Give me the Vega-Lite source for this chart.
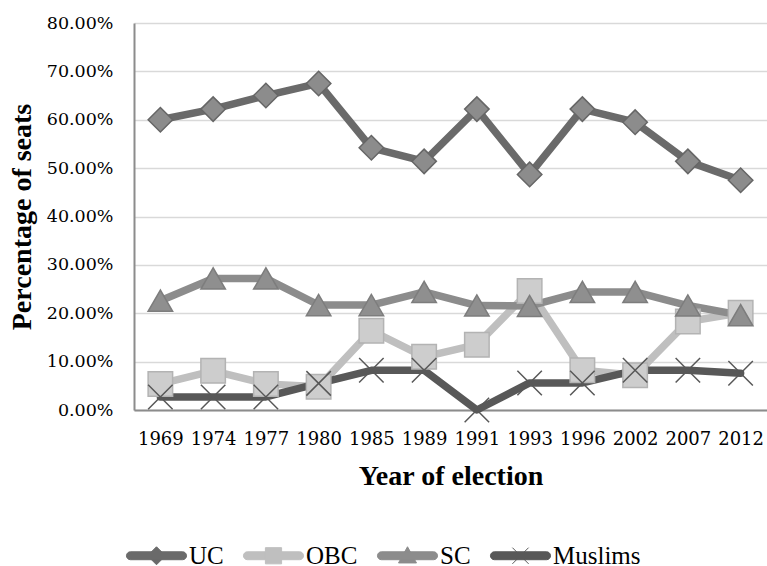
{
  "$schema": "https://vega.github.io/schema/vega-lite/v6.json",
  "width": 633,
  "height": 387,
  "autosize": {"type": "none"},
  "padding": {"left": 134, "top": 23, "right": 0, "bottom": 156},
  "background": "white",
  "config": {"view": {"stroke": null}, "font": "DejaVu Serif"},
  "data": {
    "values": [
      {"year": "1969", "series": "UC", "value": 0.600},
      {"year": "1974", "series": "UC", "value": 0.622},
      {"year": "1977", "series": "UC", "value": 0.650},
      {"year": "1980", "series": "UC", "value": 0.675},
      {"year": "1985", "series": "UC", "value": 0.542},
      {"year": "1989", "series": "UC", "value": 0.514},
      {"year": "1991", "series": "UC", "value": 0.622},
      {"year": "1993", "series": "UC", "value": 0.487},
      {"year": "1996", "series": "UC", "value": 0.622},
      {"year": "2002", "series": "UC", "value": 0.595},
      {"year": "2007", "series": "UC", "value": 0.514},
      {"year": "2012", "series": "UC", "value": 0.475},
      {"year": "1969", "series": "OBC", "value": 0.054},
      {"year": "1974", "series": "OBC", "value": 0.081},
      {"year": "1977", "series": "OBC", "value": 0.054},
      {"year": "1980", "series": "OBC", "value": 0.048},
      {"year": "1985", "series": "OBC", "value": 0.164},
      {"year": "1989", "series": "OBC", "value": 0.110},
      {"year": "1991", "series": "OBC", "value": 0.135},
      {"year": "1993", "series": "OBC", "value": 0.246},
      {"year": "1996", "series": "OBC", "value": 0.082},
      {"year": "2002", "series": "OBC", "value": 0.072},
      {"year": "2007", "series": "OBC", "value": 0.183},
      {"year": "2012", "series": "OBC", "value": 0.201},
      {"year": "1969", "series": "SC", "value": 0.226},
      {"year": "1974", "series": "SC", "value": 0.272},
      {"year": "1977", "series": "SC", "value": 0.272},
      {"year": "1980", "series": "SC", "value": 0.217},
      {"year": "1985", "series": "SC", "value": 0.217},
      {"year": "1989", "series": "SC", "value": 0.244},
      {"year": "1991", "series": "SC", "value": 0.216},
      {"year": "1993", "series": "SC", "value": 0.215},
      {"year": "1996", "series": "SC", "value": 0.244},
      {"year": "2002", "series": "SC", "value": 0.244},
      {"year": "2007", "series": "SC", "value": 0.216},
      {"year": "2012", "series": "SC", "value": 0.196},
      {"year": "1969", "series": "Muslims", "value": 0.027},
      {"year": "1974", "series": "Muslims", "value": 0.027},
      {"year": "1977", "series": "Muslims", "value": 0.027},
      {"year": "1980", "series": "Muslims", "value": 0.055},
      {"year": "1985", "series": "Muslims", "value": 0.082},
      {"year": "1989", "series": "Muslims", "value": 0.082},
      {"year": "1991", "series": "Muslims", "value": 0.0},
      {"year": "1993", "series": "Muslims", "value": 0.056},
      {"year": "1996", "series": "Muslims", "value": 0.056},
      {"year": "2002", "series": "Muslims", "value": 0.082},
      {"year": "2007", "series": "Muslims", "value": 0.082},
      {"year": "2012", "series": "Muslims", "value": 0.076}
    ]
  },
  "encoding": {
    "x": {
      "field": "year",
      "type": "ordinal",
      "sort": null,
      "scale": {"type": "point", "padding": 0.5},
      "axis": {
        "labelAngle": 0,
        "labelFont": "DejaVu Serif",
        "labelFontSize": 18,
        "labelColor": "#000000",
        "labelPadding": 20,
        "ticks": false,
        "grid": false,
        "domainColor": "#8c8c8c",
        "domainWidth": 2,
        "title": "Year of election",
        "titleFont": "Liberation Serif",
        "titleFontSize": 28,
        "titleFontWeight": "bold",
        "titleColor": "#000000",
        "titlePadding": 14
      }
    },
    "y": {
      "field": "value",
      "type": "quantitative",
      "scale": {"domain": [0, 0.8], "nice": false},
      "axis": {
        "values": [0, 0.1, 0.2, 0.3, 0.4, 0.5, 0.6, 0.7, 0.8],
        "format": ".2%",
        "labelFont": "DejaVu Serif",
        "labelFontSize": 17.5,
        "labelColor": "#000000",
        "labelPadding": 21,
        "ticks": false,
        "grid": true,
        "gridColor": "#d9d9d9",
        "gridWidth": 1.5,
        "domainColor": "#8c8c8c",
        "domainWidth": 2,
        "title": "Percentage of seats",
        "titleFont": "Liberation Serif",
        "titleFontSize": 28,
        "titleFontWeight": "bold",
        "titleColor": "#000000",
        "titlePadding": 10
      }
    }
  },
  "resolve": {
    "scale": {"stroke": "independent", "fill": "independent", "shape": "independent"},
    "legend": {"stroke": "independent", "fill": "independent", "shape": "independent"}
  },
  "layer": [
    {
      "mark": {"type": "line", "strokeWidth": 7.5, "strokeJoin": "round", "strokeCap": "round"},
      "encoding": {
        "stroke": {
          "field": "series",
          "type": "nominal",
          "scale": {"domain": ["UC", "OBC", "SC", "Muslims"], "range": ["#6a6a6a", "#bfbfbf", "#8c8c8c", "#585858"]},
          "legend": {
            "title": null,
            "orient": "none",
            "direction": "horizontal",
            "legendX": -11,
            "legendY": 520,
            "padding": 0,
            "columnPadding": 16,
            "symbolSize": 324,
            "symbolStrokeWidth": 1,
            "symbolOffset": 21,
            "labelOffset": 20,
            "labelFont": "Liberation Serif",
            "labelFontSize": 25,
            "labelColor": "#000000",
            "labelLimit": 200,
            "encode": {
              "symbols": {
                "update": {
                  "shape": {"signal": "datum.value === 'UC' ? 'M-2.9,-0.44L2.9,-0.44A0.44,0.44 0 0 1 2.9,0.44L-2.9,0.44A0.44,0.44 0 0 1 -2.9,-0.44ZM0,-1L1,0L0,1L-1,0Z' : datum.value === 'OBC' ? 'M-2.9,-0.44L2.9,-0.44A0.44,0.44 0 0 1 2.9,0.44L-2.9,0.44A0.44,0.44 0 0 1 -2.9,-0.44ZM-0.9,-0.9L0.9,-0.9L0.9,0.9L-0.9,0.9Z' : datum.value === 'SC' ? 'M-2.9,-0.44L2.9,-0.44A0.44,0.44 0 0 1 2.9,0.44L-2.9,0.44A0.44,0.44 0 0 1 -2.9,-0.44ZM0,-1L1,0.8L-1,0.8Z' : 'M-2.9,-0.44L2.9,-0.44A0.44,0.44 0 0 1 2.9,0.44L-2.9,0.44A0.44,0.44 0 0 1 -2.9,-0.44ZM-0.9,-0.9L0.9,0.9M0.9,-0.9L-0.9,0.9'"},
                  "fill": {"signal": "datum.value === 'UC' ? '#6a6a6a' : datum.value === 'OBC' ? '#bfbfbf' : datum.value === 'SC' ? '#8c8c8c' : '#585858'"},
                  "stroke": {"signal": "datum.value === 'UC' ? '#6a6a6a' : datum.value === 'OBC' ? '#bfbfbf' : datum.value === 'SC' ? '#8c8c8c' : '#585858'"},
                  "opacity": {"value": 1}
                }
              }
            }
          }
        }
      }
    },
    {
      "mark": {"type": "point", "filled": true, "size": 600, "strokeWidth": 1.5, "opacity": 1, "fillOpacity": 1, "strokeOpacity": 1},
      "encoding": {
        "fill": {
          "field": "series",
          "type": "nominal",
          "scale": {"domain": ["UC", "OBC", "SC", "Muslims"], "range": ["#8c8c8c", "#cdcdcd", "#8f8f8f", "#585858"]},
          "legend": null
        },
        "stroke": {
          "field": "series",
          "type": "nominal",
          "scale": {"domain": ["UC", "OBC", "SC", "Muslims"], "range": ["#666666", "#b3b3b3", "#7d7d7d", "#585858"]},
          "legend": null
        },
        "shape": {
          "field": "series",
          "type": "nominal",
          "scale": {"domain": ["UC", "OBC", "SC", "Muslims"], "range": ["diamond", "square", "triangle-up", "M-1,-1L1,1M1,-1L-1,1"]},
          "legend": null
        }
      }
    }
  ]
}
